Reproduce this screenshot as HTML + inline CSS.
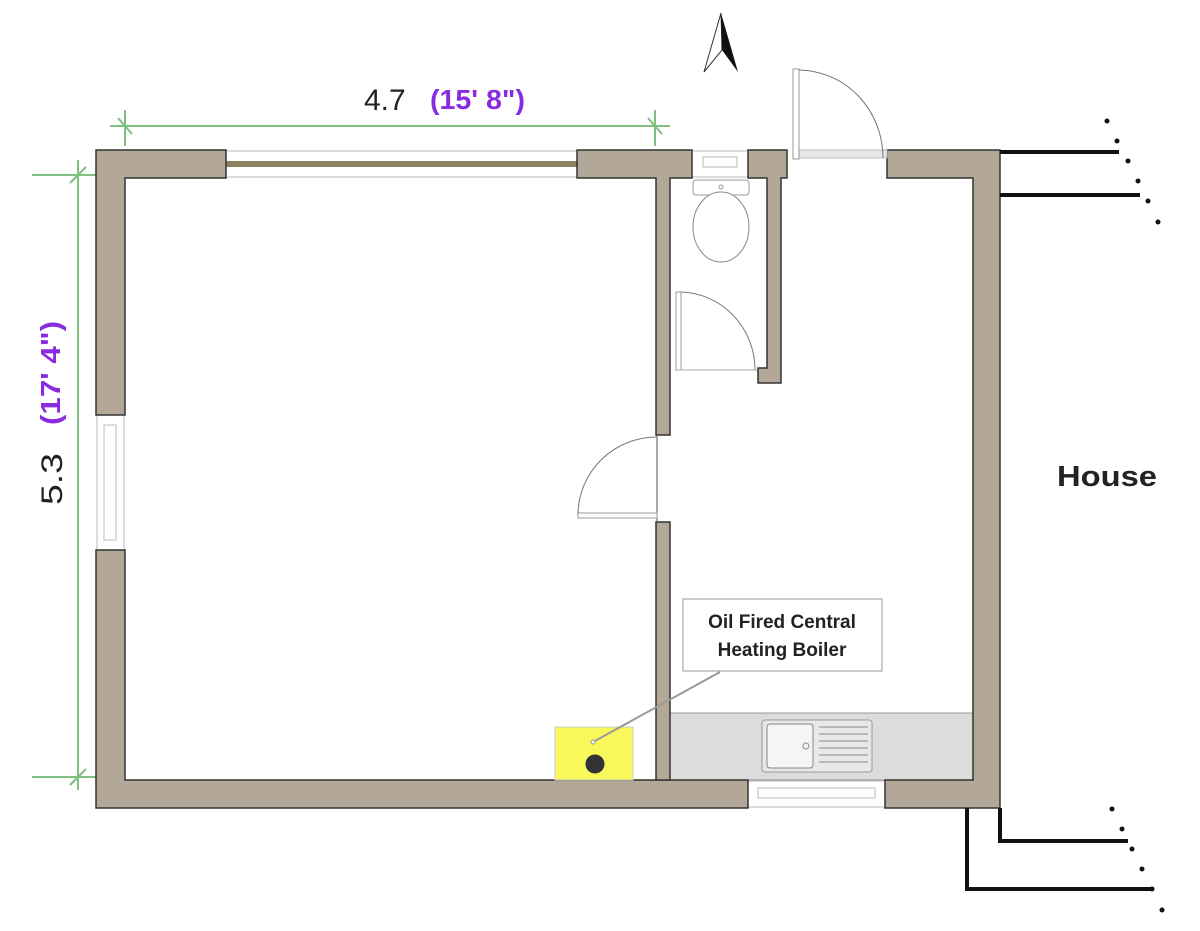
<!DOCTYPE html>
<html><head><meta charset="utf-8"><style>
html,body{margin:0;padding:0;background:#fff;}
svg{display:block;}
text{font-family:"Liberation Sans",sans-serif;}
</style></head><body>
<svg width="1200" height="931" viewBox="0 0 1200 931" xmlns="http://www.w3.org/2000/svg">
<!-- dimensions -->
<g stroke="#7fbf7f" stroke-width="2" fill="none">
<line x1="110" y1="126" x2="670" y2="126"/>
<line x1="125" y1="110" x2="125" y2="146"/>
<line x1="655" y1="110" x2="655" y2="146"/>
<line x1="118" y1="118" x2="132" y2="134"/>
<line x1="648" y1="118" x2="662" y2="134"/>
<line x1="78" y1="160" x2="78" y2="790"/>
<line x1="32" y1="175" x2="96" y2="175"/>
<line x1="32" y1="777" x2="96" y2="777"/>
<line x1="70" y1="183" x2="86" y2="167"/>
<line x1="70" y1="785" x2="86" y2="769"/>
</g>
<text x="364" y="110" font-size="30" fill="#222">4.7</text>
<text x="430" y="109" font-size="28" font-weight="bold" fill="#8a2be2" textLength="95" lengthAdjust="spacingAndGlyphs">(15' 8")</text>
<g transform="translate(62,505) rotate(-90)">
<text x="0" y="0" font-size="30" fill="#222" textLength="52" lengthAdjust="spacingAndGlyphs">5.3</text>
<text x="80" y="-2" font-size="28" font-weight="bold" fill="#8a2be2" textLength="104" lengthAdjust="spacingAndGlyphs">(17' 4")</text>
</g>
<!-- north arrow -->
<polygon points="721,13 704,72 722,50" fill="#fff" stroke="#333" stroke-width="1"/>
<polygon points="721,13 738,72 722,50" fill="#111"/>
<!-- windows -->
<rect x="226" y="151" width="351" height="26" fill="#fff" stroke="#bbb"/>
<rect x="226" y="161" width="351" height="6" fill="#8b8060"/>
<rect x="97" y="415" width="27" height="135" fill="#fff" stroke="#bbb"/>
<rect x="104" y="425" width="12" height="115" fill="none" stroke="#bbb"/>
<rect x="692" y="151" width="56" height="26" fill="#fff" stroke="#bbb"/>
<rect x="703" y="157" width="34" height="10" fill="none" stroke="#bbb"/>
<rect x="748" y="781" width="137" height="26" fill="#fff" stroke="#bbb"/>
<rect x="758" y="788" width="117" height="10" fill="none" stroke="#bbb"/>
<!-- counter -->
<rect x="670" y="713" width="303" height="67" fill="#dcdcdc" stroke="#999"/>
<rect x="762" y="720" width="110" height="52" rx="3" fill="#e8e8e8" stroke="#999"/>
<rect x="767" y="724" width="46" height="44" rx="3" fill="#f5f5f5" stroke="#888"/>
<circle cx="806" cy="746" r="3" fill="none" stroke="#888"/>
<g stroke="#888"><line x1="819" y1="727" x2="868" y2="727"/><line x1="819" y1="734" x2="868" y2="734"/><line x1="819" y1="741" x2="868" y2="741"/><line x1="819" y1="748" x2="868" y2="748"/><line x1="819" y1="755" x2="868" y2="755"/><line x1="819" y1="762" x2="868" y2="762"/></g>
<!-- walls -->
<g fill="#b3a898" stroke="#333" stroke-width="1.5">
<path d="M96,150 H226 V178 H125 V415 H96 Z"/>
<path d="M96,550 H125 V780 H748 V808 H96 Z"/>
<path d="M577,150 H692 V178 H670 V435 H656 V178 H577 Z"/>
<rect x="656" y="522" width="14" height="258"/>
<path d="M748,150 H787 V178 H781 V383 H758 V368 H767 V178 H748 Z"/>
<path d="M887,150 H1000 V808 H885 V780 H973 V178 H887 Z"/>
</g>
<!-- entry door -->
<rect x="793" y="150" width="94" height="8" fill="#e6e6e6" stroke="#bbb"/>
<rect x="793" y="69" width="6" height="90" fill="#fff" stroke="#999"/>
<path d="M799,70 A85,88 0 0 1 883,158" fill="none" stroke="#777"/>
<!-- toilet -->
<rect x="693" y="180" width="56" height="15" rx="3" fill="#fff" stroke="#999"/>
<circle cx="721" cy="187" r="2" fill="none" stroke="#999"/>
<ellipse cx="721" cy="227" rx="28" ry="35" fill="#fff" stroke="#888"/>
<rect x="676" y="292" width="5" height="78" fill="#fff" stroke="#999"/>
<path d="M681,292 A76,78 0 0 1 755,370" fill="none" stroke="#777"/>
<line x1="677" y1="370" x2="757" y2="370" stroke="#aaa"/>
<!-- interior door -->
<line x1="657" y1="435" x2="657" y2="522" stroke="#555"/>
<rect x="578" y="513" width="79" height="5" fill="#fff" stroke="#999"/>
<path d="M657,437 A79,78 0 0 0 578,514" fill="none" stroke="#777"/>
<!-- boiler -->
<rect x="555" y="727" width="78" height="53" fill="#f8f85a" stroke="#ccc"/>
<circle cx="595" cy="764" r="9.5" fill="#333"/>
<line x1="593" y1="742" x2="720" y2="672" stroke="#999" stroke-width="2"/>
<circle cx="593" cy="742" r="2" fill="#fff" stroke="#999"/>
<rect x="683" y="599" width="199" height="72" fill="#fff" stroke="#999"/>
<text x="782" y="628" font-size="19" font-weight="bold" text-anchor="middle" fill="#222">Oil Fired Central</text>
<text x="782" y="656" font-size="19" font-weight="bold" text-anchor="middle" fill="#222">Heating Boiler</text>
<text x="1057" y="486" font-size="29" font-weight="bold" fill="#222" textLength="100" lengthAdjust="spacingAndGlyphs">House</text>
<!-- pipes -->
<g stroke="#111" stroke-width="4" fill="none">
<line x1="1000" y1="152" x2="1119" y2="152"/>
<line x1="1000" y1="195" x2="1140" y2="195"/>
<polyline points="1000,808 1000,841 1128,841"/>
<polyline points="967,808 967,889 1153,889"/>
</g>
<g fill="#111">
<circle cx="1107" cy="121" r="2.5"/><circle cx="1117" cy="141" r="2.5"/><circle cx="1128" cy="161" r="2.5"/><circle cx="1138" cy="181" r="2.5"/><circle cx="1148" cy="201" r="2.5"/><circle cx="1158" cy="222" r="2.5"/>
<circle cx="1112" cy="809" r="2.5"/><circle cx="1122" cy="829" r="2.5"/><circle cx="1132" cy="849" r="2.5"/><circle cx="1142" cy="869" r="2.5"/><circle cx="1152" cy="889" r="2.5"/><circle cx="1162" cy="910" r="2.5"/>
</g>
</svg>
</body></html>
